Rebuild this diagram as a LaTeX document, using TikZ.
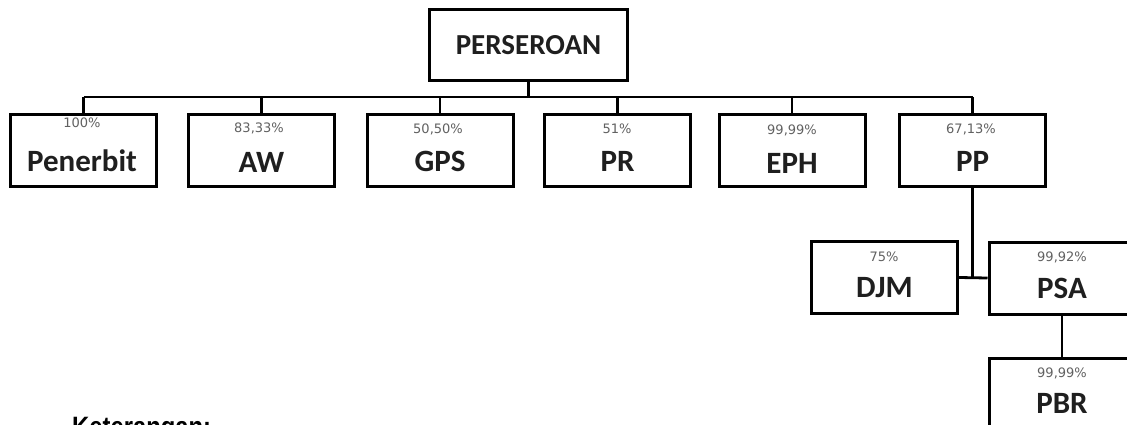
\documentclass[tikz,border=0pt]{standalone}
\usepackage{fontspec}
\setmainfont{Carlito}
\newfontfamily\pctfont{DejaVu Sans}
\newfontfamily\ketfont[FakeStretch=0.85]{Liberation Sans}
\begin{document}
\begin{tikzpicture}[x=1pt,y=-1pt,
  box/.style={draw=black,line width=3pt,fill=white,minimum width=146pt,minimum height=72pt,inner sep=0pt},
  topbox/.style={box,minimum width=198pt,minimum height=71pt},
  pct/.style={font=\pctfont\fontsize{13}{14}\selectfont,text=black!62,inner sep=0pt},
  lbl/.style={font=\fontsize{31}{33}\selectfont\bfseries,text=black!88,inner sep=0pt},
  conn/.style={line width=2.8pt}]
\useasboundingbox (0,0) rectangle (1127,425);
\clip (0,0) rectangle (1127,425);
\fill[white] (0,0) rectangle (1127,425);
% boxes
\node[topbox] (per) at (528.5,45) {};
\node[box] (pen) at (83.5,150.5) {};
\node[box] (aw) at (261.5,150.5) {};
\node[box] (gps) at (440,150.5) {};
\node[box] (pr) at (617.5,150.5) {};
\node[box] (eph) at (792,150.5) {};
\node[box] (pp) at (972.5,150.5) {};
\node[box] (djm) at (884.5,277.5) {};
\node[box] (psa) at (1062,278) {};
\node[box] (pbr) at (1062,394) {};
% connectors
\coordinate (bus) at (0,97);
\draw[conn] (per.south) -- (per.south|-bus);
\draw[conn] (pen.north|-bus) -- (pp.north|-bus);
\foreach \n in {pen,aw,gps,pr,eph,pp}{\draw[conn] (\n.north) -- (\n.north|-bus);}
\draw[conn] (pp.south) -- (pp.south|-djm.east);
\draw[conn] (djm.east) -- (psa.west);
\draw[conn] (psa.south) -- (pbr.north);
% texts
\node[lbl,font=\fontsize{29}{31}\selectfont\bfseries] (tper) at (528.5,45) {PERSEROAN};
\node[pct] (ppen) at (82,123) {100\%};
\node[lbl] (tpen) at (82,161) {Penerbit};
\node[pct] (paw) at (259,128) {83,33\%};
\node[lbl] (taw) at (261.5,162) {AW};
\node[pct] (pgps) at (438,129) {50,50\%};
\node[lbl] (tgps) at (440,161) {GPS};
\node[pct] (ppr) at (617,129) {51\%};
\node[lbl] (tpr) at (617.5,161) {PR};
\node[pct] (peph) at (792,130) {99,99\%};
\node[lbl] (teph) at (792,163) {EPH};
\node[pct] (ppp) at (971,129) {67,13\%};
\node[lbl] (tpp) at (972.5,161) {PP};
\node[pct] (pdjm) at (884,257) {75\%};
\node[lbl] (tdjm) at (884.5,288) {DJM};
\node[pct] (ppsa) at (1062,257) {99,92\%};
\node[lbl] (tpsa) at (1062,288) {PSA};
\node[pct] (ppbr) at (1062,373) {99,99\%};
\node[lbl] (tpbr) at (1062,403) {PBR};
\node[anchor=base west,inner sep=0pt,font=\ketfont\fontsize{28}{30}\selectfont\bfseries] (ket) at (72,436) {Keterangan:};
\end{tikzpicture}
\end{document}
